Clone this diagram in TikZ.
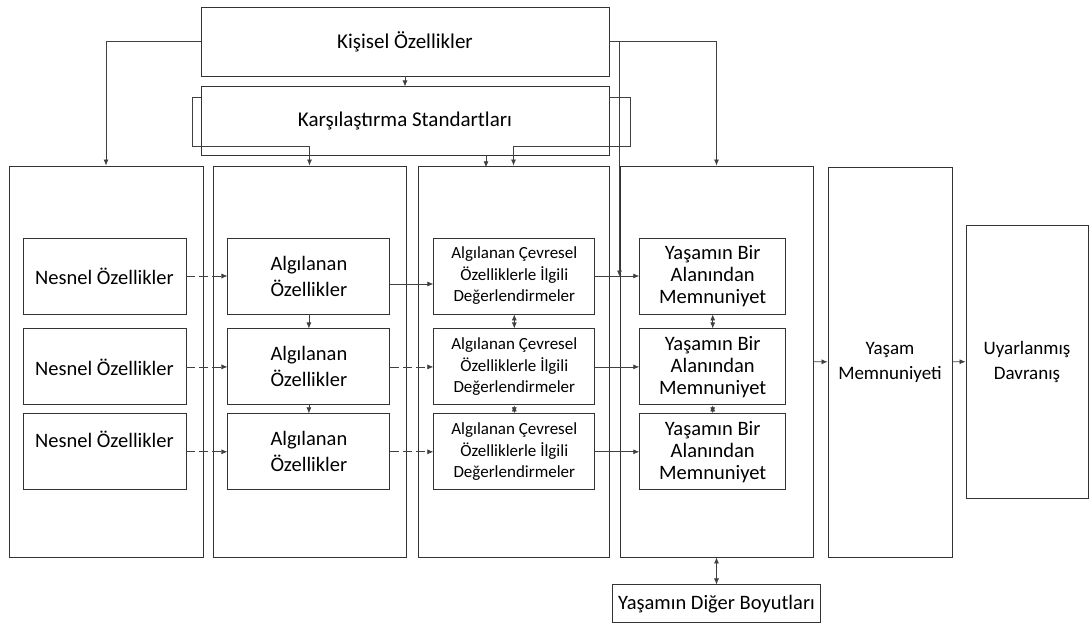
\documentclass[tikz,border=0pt]{standalone}
\usepackage{fontspec}
\setmainfont{Carlito}
\usetikzlibrary{positioning, arrows.meta}
\tikzset {
    ->,
    >={Latex[length=6pt, width=5pt]},
    box/.style={draw=black!80, line width=0.9pt, inner sep=0pt, align=center, text=black},
    top box/.style={box, minimum width=408pt, minimum height=69pt, font=\fontsize{21}{25}\selectfont},
    column/.style={box, minimum height=391pt},
    object/.style={box, minimum width=163pt, minimum height=76pt, font=\fontsize{20.5}{26}\selectfont},
    perceived/.style={box, minimum width=162pt, minimum height=76pt, font=\fontsize{20.5}{26}\selectfont},
    evaluation/.style={box, minimum width=161pt, minimum height=76pt, font=\fontsize{17}{21.5}\selectfont},
    lifebox/.style={box, minimum width=146pt, minimum height=76pt, font=\fontsize{20.5}{22}\selectfont},
    dashed link/.style={dash pattern=on 9pt off 4pt}
}

\begin{document}
\begin{tikzpicture}[x=1pt, y=-1pt, line width=0.7pt, color=black!75]
    \useasboundingbox (0,0) rectangle (1089,623);

    \node[top box] (kis) at (405,41.5) {Kişisel Özellikler};
    \node[top box, below=10pt of kis] (kar) {Karşılaştırma Standartları};

    \node[column, minimum width=194pt] (col1) at (106,361.5) {};
    \node[column, minimum width=193pt] (col2) at (309.5,361.5) {};
    \node[column, minimum width=191pt] (col3) at (513.5,361.5) {};
    \node[column, minimum width=193pt] (col4) at (716.5,361.5) {};
    \node[column, minimum width=124pt, minimum height=390pt, font=\fontsize{19}{25}\selectfont] (col5) at (890,362) {Yaşam\\Memnuniyeti};
    \node[box, minimum width=122pt, minimum height=273pt, font=\fontsize{19}{25}\selectfont] (col6) at (1027,361.5) {Uyarlanmış\\Davranış};
    \node[box, below=27pt of col4, minimum width=208pt, minimum height=38pt, font=\fontsize{20.5}{25}\selectfont] (diger) {Yaşamın Diğer Boyutları};

    \node[object] (nes1) at (104.5,276) {Nesnel Özellikler};
    \node[object, below=14pt of nes1] (nes2) {Nesnel Özellikler};
    \node[object, below=8pt of nes2] (nes3) {\raisebox{12pt}[\height][\depth]{Nesnel Özellikler}};

    \node[perceived, right=41pt of nes1] (alg1) {Algılanan\\Özellikler};
    \node[perceived, right=41pt of nes2] (alg2) {Algılanan\\Özellikler};
    \node[perceived, right=41pt of nes3] (alg3) {Algılanan\\Özellikler};

    \node[evaluation, right=43pt of alg1] (deg1) {Algılanan Çevresel\\Özelliklerle İlgili\\Değerlendirmeler};
    \node[evaluation, right=43pt of alg2] (deg2) {Algılanan Çevresel\\Özelliklerle İlgili\\Değerlendirmeler};
    \node[evaluation, right=43pt of alg3] (deg3) {Algılanan Çevresel\\Özelliklerle İlgili\\Değerlendirmeler};

    \node[lifebox, right=44pt of deg1] (yas1) {Yaşamın Bir\\Alanından\\Memnuniyet};
    \node[lifebox, right=44pt of deg2] (yas2) {Yaşamın Bir\\Alanından\\Memnuniyet};
    \node[lifebox, right=44pt of deg3] (yas3) {Yaşamın Bir\\Alanından\\Memnuniyet};

    % kisisel ozellikler
    \draw (kis) -- (kar);
    \draw (kis.west) -| (col1.north);
    \draw (kis.east) -| (col4.north);
    \draw ([xshift=10pt]kis.east) -- ++(0,235);

    % karsilastirma standartlari
    \draw ([yshift=-11pt]kar.north west) -- ++(-8,0) -- ++(0,49) -| (col2.north);
    \draw ([yshift=-11pt]kar.north east) -- ++(21,0) -- ++(0,49) -| (col3.north);
    \draw ([xshift=81pt]kar.south) -- ++(0,11);

    \draw[dashed link] (nes1) -- (alg1);
    \draw[dashed link] (nes2) -- (alg2);
    \draw[dashed link] (nes3) -- (alg3);
    \draw (alg1) -- (alg2);
    \draw (alg2) -- (alg3);

    \draw ([yshift=-8pt]alg1.east) -- ([yshift=-8pt]deg1.west);
    \draw[dashed link] (alg2) -- (deg2);
    \draw[dashed link] (alg3) -- (deg3);
    \draw[<->] (deg1) -- (deg2);
    \draw[<->] (deg2) -- (deg3);

    \draw (deg1) -- (yas1);
    \draw (deg2) -- (yas2);
    \draw (deg3) -- (yas3);
    \draw[<->] (yas1) -- (yas2);
    \draw[<->] (yas2) -- (yas3);

    \draw (col4) -- (col5);
    \draw (col5) -- (col6);
    \draw[<->] (col4) -- (diger);
\end{tikzpicture}
\end{document}
